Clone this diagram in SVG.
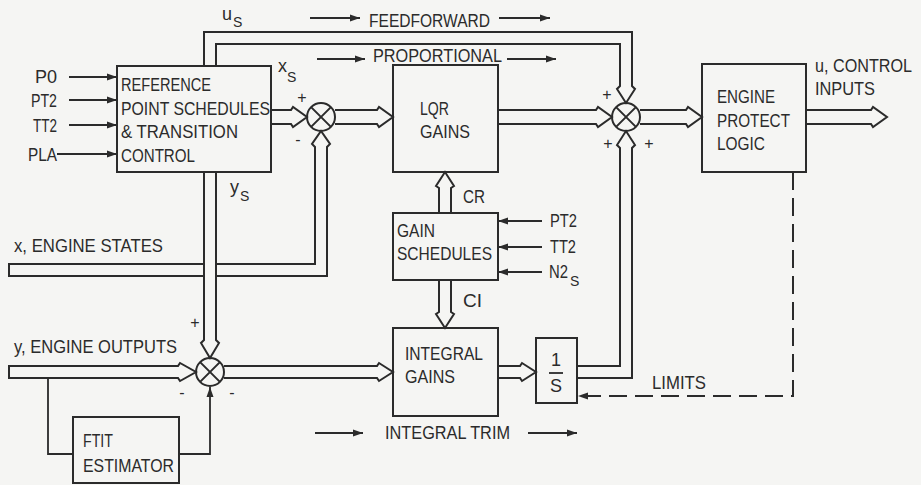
<svg xmlns="http://www.w3.org/2000/svg" width="921" height="485" viewBox="0 0 921 485">
<defs>
<marker id="ah" markerUnits="userSpaceOnUse" markerWidth="11" markerHeight="8" refX="10" refY="4" orient="auto"><path d="M0,0.5 L10,4 L0,7.5 z" fill="#2b2b2b"/></marker>
<style>
text{font-family:"Liberation Sans",Arial,sans-serif;font-size:18px;fill:#2b2b2b}
.sub{font-size:14px}
.sg{font-size:16px;text-anchor:middle}
.box{fill:none;stroke:#2b2b2b;stroke-width:2}
.wide{fill:none;stroke:#2b2b2b;stroke-width:2;stroke-linejoin:miter}
.thin{fill:none;stroke:#2b2b2b;stroke-width:1.8;marker-end:url(#ah)}
.plain{fill:none;stroke:#2b2b2b;stroke-width:1.8}
.dash{fill:none;stroke:#2b2b2b;stroke-width:2;stroke-dasharray:18,8;marker-end:url(#ah)}
.sum{fill:none;stroke:#2b2b2b;stroke-width:2}
</style>
</defs>
<rect x="0" y="0" width="921" height="485" fill="#f5f5f3"/>

<g id="connectors">
<path class="wide" d="M271,110 H291 L293,107 L307,117 L293,127 L291,124 H271"/>
<path class="wide" d="M335,110 H377 L379,107 L393,117 L379,127 L377,124 H335"/>
<path class="wide" d="M498,110 H596 L598,107 L612,117 L598,127 L596,124 H498"/>
<path class="wide" d="M640,110 H686 L688,107 L702,117 L688,127 L686,124 H640"/>
<path class="wide" d="M806,110 H871 L873,107 L887,117 L873,127 L871,124 H806"/>
<path class="wide" d="M9,366 H178 L180,363 L196,372 L180,381 L178,378 H9 Z"/>
<path class="wide" d="M224,366 H377 L379,363 L393,372 L379,381 L377,378 H224"/>
<path class="wide" d="M498,366 H520 L522,363 L536,372 L522,381 L520,378 H498"/>
<path class="wide" d="M577,366 H620 V148 L617,145 L626,131 L635,145 L632,148 V378 H577"/>
<path class="wide" d="M204,172 V340 L201,343 L210,358 L219,343 L216,340 V172"/>
<path class="wide" d="M204,264 H9 V276 H204"/>
<path class="wide" d="M216,264 H315 V147 L312,144 L321,131 L330,144 L327,147 V276 H216"/>
<path class="wide" d="M439,213 V188 L436,186 L445,172 L454,186 L451,188 V213"/>
<path class="wide" d="M439,280 V312 L436,314 L445,328 L454,314 L451,312 V280"/>
<path class="wide" d="M204,66 V32 H632 V86 L635,89 L626,103 L617,89 L620,86 V44 H216 V66"/>
<line class="thin" x1="69" y1="77" x2="117" y2="77"/>
<line class="thin" x1="69" y1="100" x2="117" y2="100"/>
<line class="thin" x1="69" y1="125" x2="117" y2="125"/>
<line class="thin" x1="57" y1="154" x2="117" y2="154"/>
<line class="thin" x1="542" y1="221" x2="498" y2="221"/>
<line class="thin" x1="542" y1="247" x2="498" y2="247"/>
<line class="thin" x1="542" y1="272" x2="498" y2="272"/>
<path class="plain" d="M48,378 V454 H73"/>
<path class="thin" d="M179,454 H210 V387"/>
<path class="dash" d="M793,172 V396 H578"/>
<line class="thin" x1="310" y1="18" x2="360" y2="18"/>
<line class="thin" x1="499" y1="18" x2="550" y2="18"/>
<line class="thin" x1="317" y1="59" x2="365" y2="59"/>
<line class="thin" x1="507" y1="59" x2="556" y2="59"/>
<line class="thin" x1="315" y1="433" x2="363" y2="433"/>
<line class="thin" x1="528" y1="433" x2="577" y2="433"/>
</g>

<g id="ref-schedules">
<rect class="box" x="117" y="66" width="154" height="106"/>
<text x="121" y="91" textLength="90" lengthAdjust="spacingAndGlyphs">REFERENCE</text>
<text x="121" y="115" textLength="149" lengthAdjust="spacingAndGlyphs">POINT SCHEDULES</text>
<text x="121" y="138" textLength="117" lengthAdjust="spacingAndGlyphs">&amp; TRANSITION</text>
<text x="121" y="162" textLength="74" lengthAdjust="spacingAndGlyphs">CONTROL</text>
</g>

<g id="inputs-left">
<text x="57" y="83" text-anchor="end">P0</text>
<text x="57" y="107" text-anchor="end" textLength="26" lengthAdjust="spacingAndGlyphs">PT2</text>
<text x="57" y="132" text-anchor="end" textLength="24" lengthAdjust="spacingAndGlyphs">TT2</text>
<text x="57" y="161" text-anchor="end" textLength="29" lengthAdjust="spacingAndGlyphs">PLA</text>
</g>

<g id="sum-left">
<circle class="sum" cx="321" cy="117" r="14"/>
<path class="sum" d="M311.1,107.1 L330.9,126.9 M330.9,107.1 L311.1,126.9"/>
<text class="sg" x="302" y="103">+</text>
<text class="sg" x="298" y="145">-</text>
</g>

<g id="lqr-gains">
<rect class="box" x="393" y="65" width="105" height="107"/>
<text x="420" y="115" textLength="29" lengthAdjust="spacingAndGlyphs">LQR</text>
<text x="420" y="138" textLength="50" lengthAdjust="spacingAndGlyphs">GAINS</text>
</g>

<g id="sum-right">
<circle class="sum" cx="626" cy="117" r="14"/>
<path class="sum" d="M616.1,107.1 L635.9,126.9 M635.9,107.1 L616.1,126.9"/>
<text class="sg" x="607" y="100">+</text>
<text class="sg" x="608" y="149">+</text>
<text class="sg" x="649" y="149">+</text>
</g>

<g id="engine-protect">
<rect class="box" x="702" y="64" width="104" height="108"/>
<text x="717" y="103" textLength="58" lengthAdjust="spacingAndGlyphs">ENGINE</text>
<text x="717" y="127" textLength="73" lengthAdjust="spacingAndGlyphs">PROTECT</text>
<text x="717" y="150" textLength="48" lengthAdjust="spacingAndGlyphs">LOGIC</text>
</g>

<g id="output-label">
<text x="815" y="72" textLength="97" lengthAdjust="spacingAndGlyphs">u, CONTROL</text>
<text x="815" y="95" textLength="60" lengthAdjust="spacingAndGlyphs">INPUTS</text>
</g>

<g id="gain-schedules">
<rect class="box" x="393" y="213" width="105" height="67"/>
<text x="397" y="237" textLength="38" lengthAdjust="spacingAndGlyphs">GAIN</text>
<text x="397" y="260" textLength="95" lengthAdjust="spacingAndGlyphs">SCHEDULES</text>
<text x="550" y="227" textLength="27" lengthAdjust="spacingAndGlyphs">PT2</text>
<text x="550" y="253" textLength="26" lengthAdjust="spacingAndGlyphs">TT2</text>
<text x="549" y="278" textLength="19" lengthAdjust="spacingAndGlyphs">N2</text>
<text class="sub" x="570" y="286">S</text>
<text x="463" y="203" textLength="22" lengthAdjust="spacingAndGlyphs">CR</text>
<text x="463" y="307" textLength="19" lengthAdjust="spacingAndGlyphs">CI</text>
</g>

<g id="integral-gains">
<rect class="box" x="393" y="328" width="105" height="88"/>
<text x="405" y="360" textLength="78" lengthAdjust="spacingAndGlyphs">INTEGRAL</text>
<text x="405" y="383" textLength="50" lengthAdjust="spacingAndGlyphs">GAINS</text>
</g>

<g id="integrator">
<rect class="box" x="536" y="338" width="41" height="65"/>
<text x="556" y="366" text-anchor="middle">1</text>
<line x1="549" y1="373" x2="563" y2="373" stroke="#2b2b2b" stroke-width="1.8"/>
<text x="556" y="392" text-anchor="middle">S</text>
</g>

<g id="sum-bottom">
<circle class="sum" cx="210" cy="372" r="14"/>
<path class="sum" d="M200.1,362.1 L219.9,381.9 M219.9,362.1 L200.1,381.9"/>
<text class="sg" x="195" y="328">+</text>
<text class="sg" x="182" y="398">-</text>
<text class="sg" x="232" y="398">-</text>
</g>

<g id="ftit-estimator">
<rect class="box" x="73" y="417" width="106" height="66"/>
<text x="83" y="447" textLength="30" lengthAdjust="spacingAndGlyphs">FTIT</text>
<text x="83" y="472" textLength="91" lengthAdjust="spacingAndGlyphs">ESTIMATOR</text>
</g>

<g id="labels">
<text x="222" y="20">u</text>
<text class="sub" x="233" y="27">S</text>
<text x="278" y="72">x</text>
<text class="sub" x="287" y="82">S</text>
<text x="230" y="193">y</text>
<text class="sub" x="240" y="201">S</text>
<text x="369" y="27" textLength="121" lengthAdjust="spacingAndGlyphs">FEEDFORWARD</text>
<text x="373" y="62" textLength="129" lengthAdjust="spacingAndGlyphs">PROPORTIONAL</text>
<text x="385" y="439" textLength="125" lengthAdjust="spacingAndGlyphs">INTEGRAL TRIM</text>
<text x="652" y="389" textLength="54" lengthAdjust="spacingAndGlyphs">LIMITS</text>
<text x="14" y="252" textLength="149" lengthAdjust="spacingAndGlyphs">x, ENGINE STATES</text>
<text x="14" y="353" textLength="163" lengthAdjust="spacingAndGlyphs">y, ENGINE OUTPUTS</text>
</g>
</svg>
